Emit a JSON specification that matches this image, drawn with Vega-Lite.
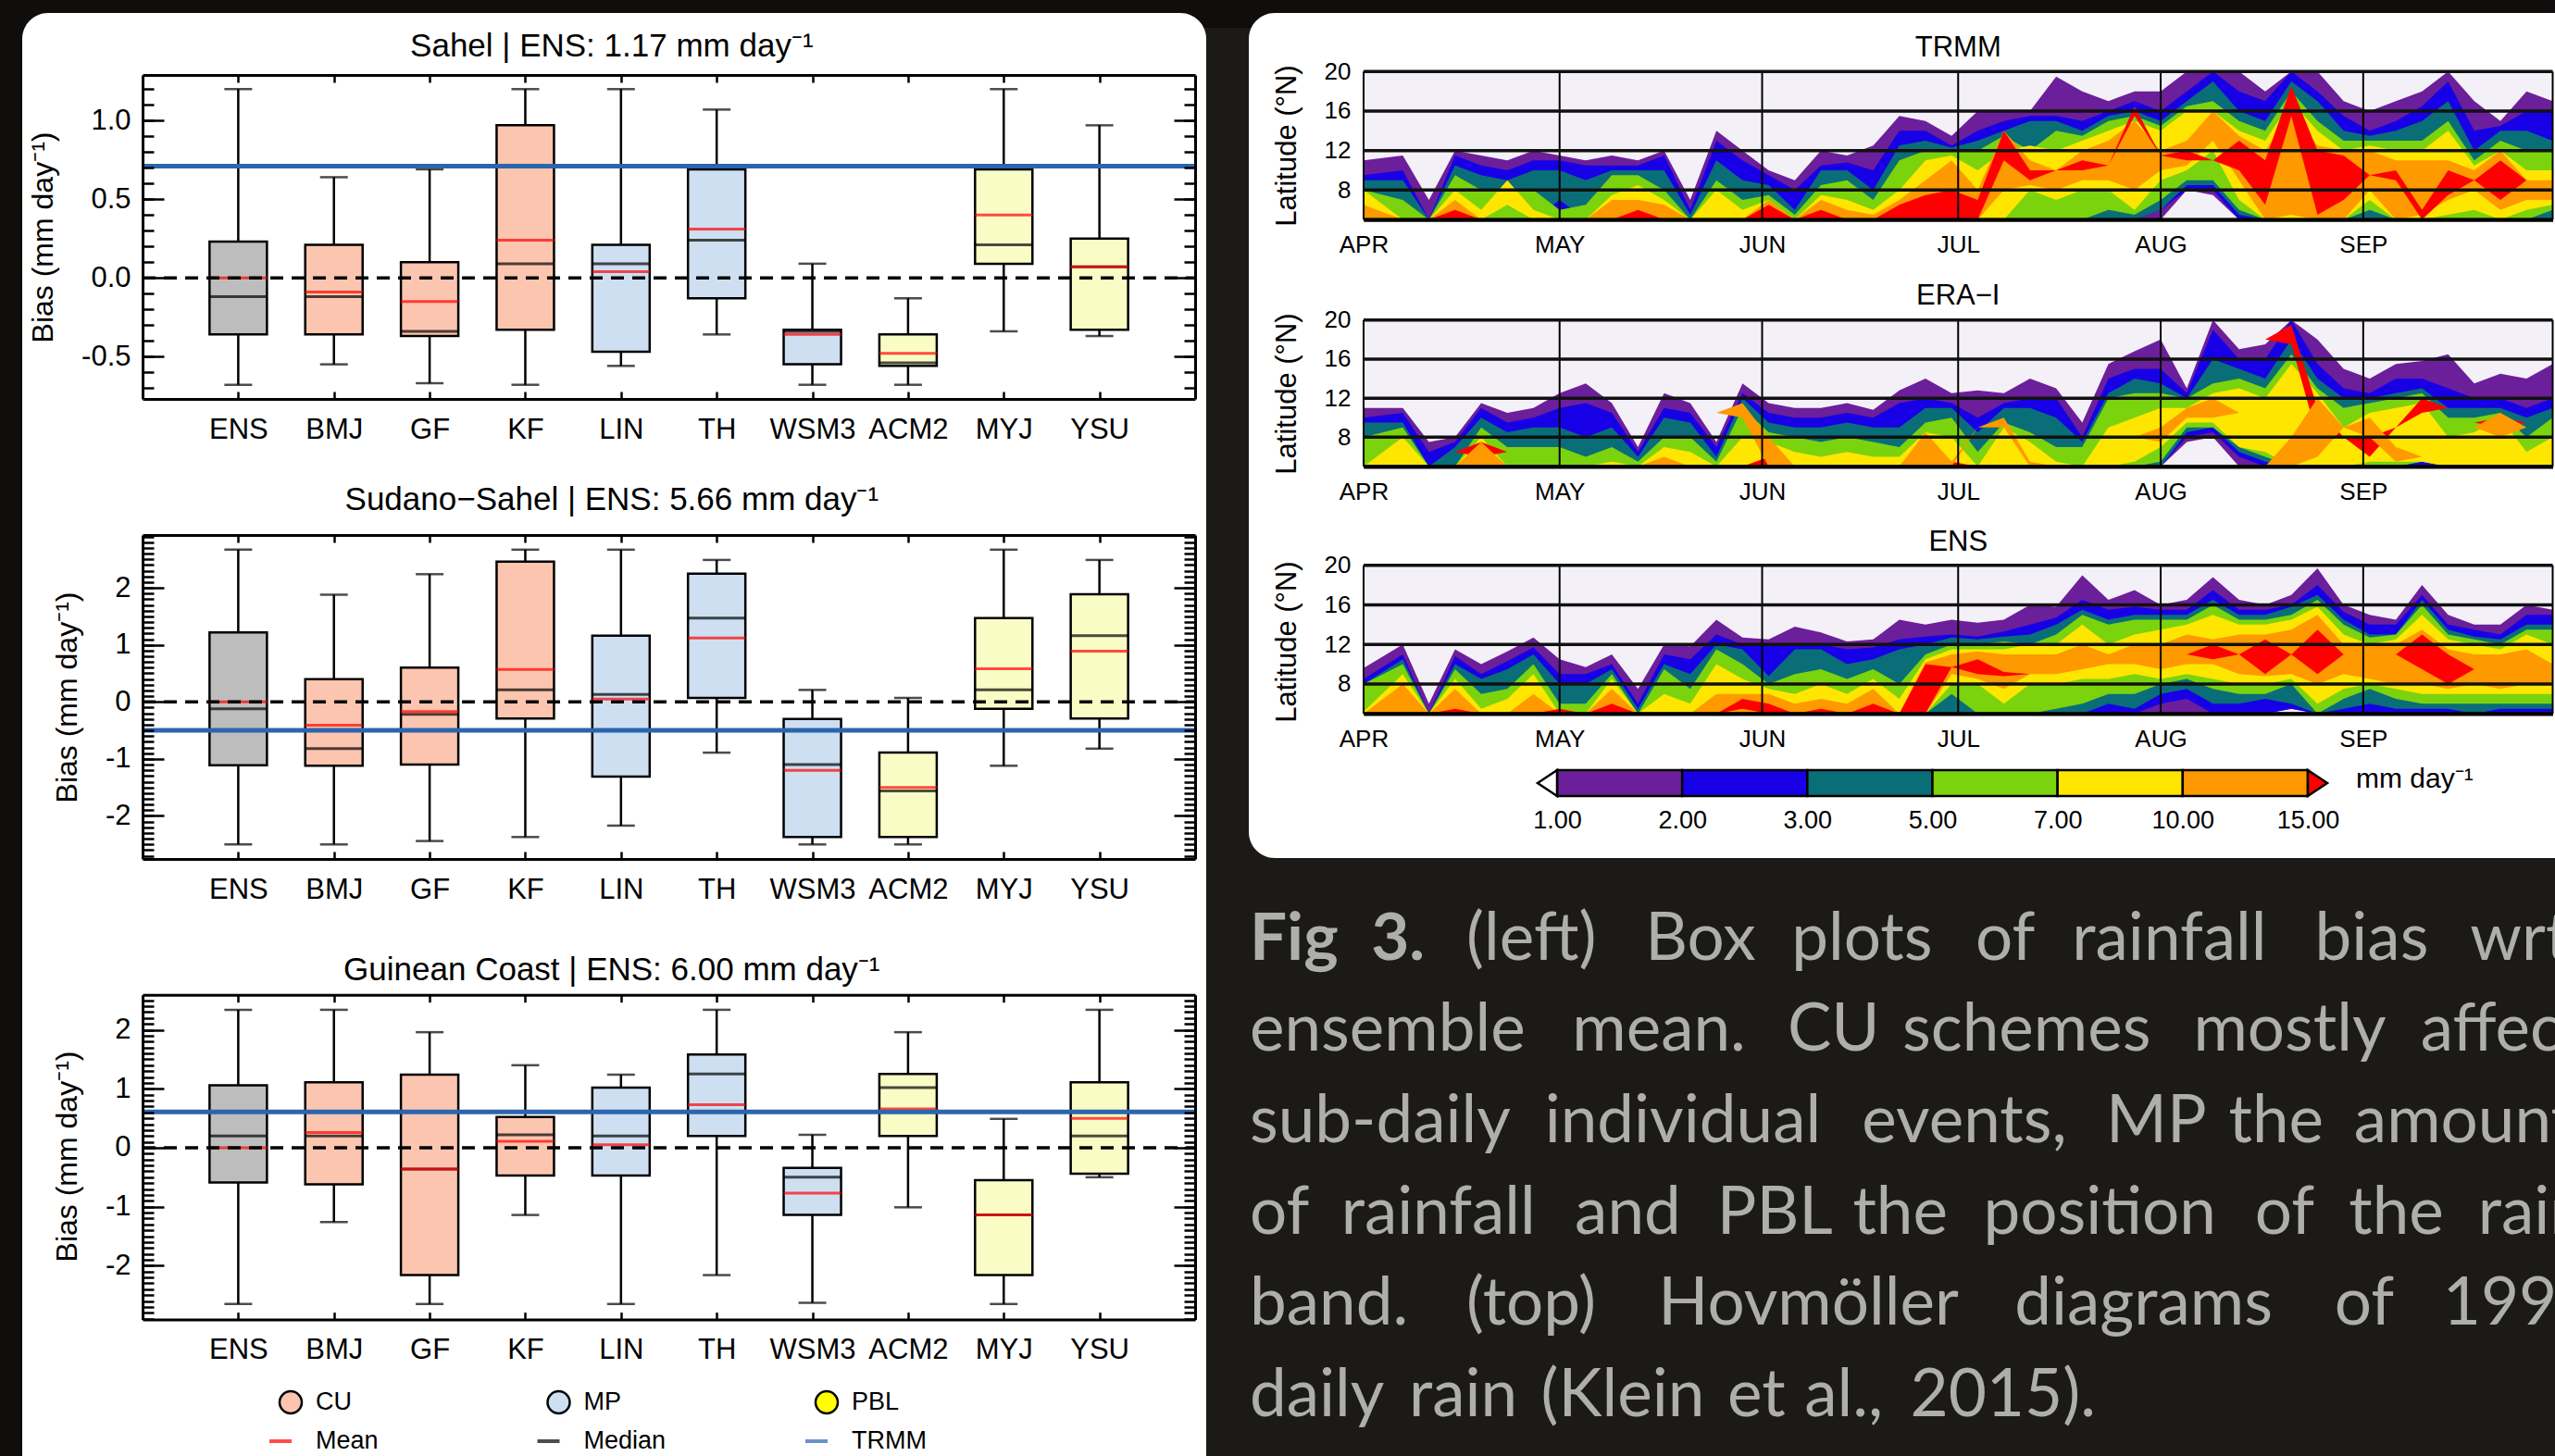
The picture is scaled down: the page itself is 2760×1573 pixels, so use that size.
{"$schema":"https://vega.github.io/schema/vega-lite/v6.json","width":2760,"height":1573,"padding":0,"autosize":{"type":"none"},"background":"#1c1a17",
"config":{"view":{"stroke":null},"axis":{"grid":false,"labelFont":"Liberation Sans","titleFont":"Liberation Sans","labelColor":"#000","titleColor":"#000","domainColor":"#000","tickColor":"#000","domainWidth":3,"tickWidth":2.5,"labelOverlap":false,"titleFontWeight":"normal","labelFontWeight":"normal"},"text":{"font":"Liberation Sans"}},
"resolve":{"scale":{"x":"independent","y":"independent","color":"independent"},"axis":{"x":"independent","y":"independent"}},
"datasets":{
"box":[
{"r":"Sahel","m":"ENS","g":"ENS","hi":1.2,"q3":0.23,"med":-0.12,"mean":0,"q1":-0.36,"lo":-0.68},
{"r":"Sahel","m":"BMJ","g":"CU","hi":0.64,"q3":0.21,"med":-0.12,"mean":-0.09,"q1":-0.36,"lo":-0.55},
{"r":"Sahel","m":"GF","g":"CU","hi":0.69,"q3":0.1,"med":-0.34,"mean":-0.15,"q1":-0.37,"lo":-0.67},
{"r":"Sahel","m":"KF","g":"CU","hi":1.2,"q3":0.97,"med":0.09,"mean":0.24,"q1":-0.33,"lo":-0.68},
{"r":"Sahel","m":"LIN","g":"MP","hi":1.2,"q3":0.21,"med":0.09,"mean":0.04,"q1":-0.47,"lo":-0.56},
{"r":"Sahel","m":"TH","g":"MP","hi":1.07,"q3":0.69,"med":0.24,"mean":0.31,"q1":-0.13,"lo":-0.36},
{"r":"Sahel","m":"WSM3","g":"MP","hi":0.09,"q3":-0.33,"med":-0.34,"mean":-0.36,"q1":-0.55,"lo":-0.68},
{"r":"Sahel","m":"ACM2","g":"PBL","hi":-0.13,"q3":-0.36,"med":-0.54,"mean":-0.48,"q1":-0.56,"lo":-0.68},
{"r":"Sahel","m":"MYJ","g":"PBL","hi":1.2,"q3":0.69,"med":0.21,"mean":0.4,"q1":0.09,"lo":-0.34},
{"r":"Sahel","m":"YSU","g":"PBL","hi":0.97,"q3":0.25,"med":0.07,"mean":0.07,"q1":-0.33,"lo":-0.37},
{"r":"Sudano","m":"ENS","g":"ENS","hi":2.67,"q3":1.22,"med":-0.12,"mean":0,"q1":-1.11,"lo":-2.5},
{"r":"Sudano","m":"BMJ","g":"CU","hi":1.88,"q3":0.4,"med":-0.82,"mean":-0.41,"q1":-1.12,"lo":-2.5},
{"r":"Sudano","m":"GF","g":"CU","hi":2.24,"q3":0.6,"med":-0.22,"mean":-0.17,"q1":-1.1,"lo":-2.44},
{"r":"Sudano","m":"KF","g":"CU","hi":2.67,"q3":2.46,"med":0.21,"mean":0.57,"q1":-0.29,"lo":-2.37},
{"r":"Sudano","m":"LIN","g":"MP","hi":2.67,"q3":1.16,"med":0.13,"mean":0.05,"q1":-1.31,"lo":-2.17},
{"r":"Sudano","m":"TH","g":"MP","hi":2.49,"q3":2.25,"med":1.47,"mean":1.12,"q1":0.07,"lo":-0.89},
{"r":"Sudano","m":"WSM3","g":"MP","hi":0.21,"q3":-0.3,"med":-1.1,"mean":-1.2,"q1":-2.37,"lo":-2.5},
{"r":"Sudano","m":"ACM2","g":"PBL","hi":0.07,"q3":-0.89,"med":-1.56,"mean":-1.5,"q1":-2.37,"lo":-2.5},
{"r":"Sudano","m":"MYJ","g":"PBL","hi":2.67,"q3":1.47,"med":0.21,"mean":0.58,"q1":-0.12,"lo":-1.12},
{"r":"Sudano","m":"YSU","g":"PBL","hi":2.49,"q3":1.89,"med":1.16,"mean":0.89,"q1":-0.29,"lo":-0.82},
{"r":"Guinea","m":"ENS","g":"ENS","hi":2.34,"q3":1.06,"med":0.2,"mean":0,"q1":-0.59,"lo":-2.65},
{"r":"Guinea","m":"BMJ","g":"CU","hi":2.34,"q3":1.11,"med":0.2,"mean":0.26,"q1":-0.62,"lo":-1.26},
{"r":"Guinea","m":"GF","g":"CU","hi":1.96,"q3":1.24,"med":-0.36,"mean":-0.36,"q1":-2.16,"lo":-2.65},
{"r":"Guinea","m":"KF","g":"CU","hi":1.4,"q3":0.52,"med":0.22,"mean":0.11,"q1":-0.47,"lo":-1.14},
{"r":"Guinea","m":"LIN","g":"MP","hi":1.24,"q3":1.02,"med":0.2,"mean":0.05,"q1":-0.47,"lo":-2.65},
{"r":"Guinea","m":"TH","g":"MP","hi":2.34,"q3":1.58,"med":1.25,"mean":0.73,"q1":0.2,"lo":-2.16},
{"r":"Guinea","m":"WSM3","g":"MP","hi":0.22,"q3":-0.34,"med":-0.5,"mean":-0.77,"q1":-1.14,"lo":-2.63},
{"r":"Guinea","m":"ACM2","g":"PBL","hi":1.96,"q3":1.25,"med":1.02,"mean":0.66,"q1":0.2,"lo":-1.01},
{"r":"Guinea","m":"MYJ","g":"PBL","hi":0.49,"q3":-0.55,"med":-1.14,"mean":-1.14,"q1":-2.16,"lo":-2.65},
{"r":"Guinea","m":"YSU","g":"PBL","hi":2.34,"q3":1.11,"med":0.2,"mean":0.5,"q1":-0.44,"lo":-0.5}],
"trmm":[{"r":"Sahel","v":0.71},{"r":"Sudano","v":-0.5},{"r":"Guinea","v":0.61}],
"heads":[{"r":"Sahel","m":"LIN","v":1.475,"s":"Sahel | ENS: 1.17 mm day⁻¹"},{"r":"Sudano","m":"LIN","v":3.54,"s":"Sudano−Sahel | ENS: 5.66 mm day⁻¹"},{"r":"Guinea","m":"LIN","v":3.01,"s":"Guinean Coast | ENS: 6.00 mm day⁻¹"}],
"months":[{"d":0},{"d":30},{"d":61},{"d":91},{"d":122},{"d":153},{"d":182}],
"lats":[{"lat":5,"f":0,"e":182},{"lat":8,"f":0,"e":182},{"lat":12,"f":0,"e":182},{"lat":16,"f":0,"e":182},{"lat":20,"f":0,"e":182}],
"words":[{"l":1,"p":16.6,"w":"(left)"},{"l":1,"p":30.3,"w":"Box"},{"l":1,"p":41.5,"w":"plots"},{"l":1,"p":55.6,"w":"of"},{"l":1,"p":63,"w":"rainfall"},{"l":1,"p":81.6,"w":"bias"},{"l":1,"p":93.5,"w":"wrt"},
{"l":2,"p":0,"w":"ensemble"},{"l":2,"p":24.7,"w":"mean."},{"l":2,"p":41.2,"w":"CU"},{"l":2,"p":50,"w":"schemes"},{"l":2,"p":72.3,"w":"mostly"},{"l":2,"p":89.7,"w":"affect"},
{"l":3,"p":0,"w":"sub-daily"},{"l":3,"p":22.6,"w":"individual"},{"l":3,"p":46.9,"w":"events,"},{"l":3,"p":65.6,"w":"MP"},{"l":3,"p":75,"w":"the"},{"l":3,"p":84.6,"w":"amount"},
{"l":4,"p":0,"w":"of"},{"l":4,"p":7,"w":"rainfall"},{"l":4,"p":24.9,"w":"and"},{"l":4,"p":35.8,"w":"PBL"},{"l":4,"p":46.2,"w":"the"},{"l":4,"p":56.2,"w":"position"},{"l":4,"p":77,"w":"of"},{"l":4,"p":84.2,"w":"the"},{"l":4,"p":94.1,"w":"rain"},
{"l":5,"p":0,"w":"band."},{"l":5,"p":16.6,"w":"(top)"},{"l":5,"p":31.3,"w":"Hovmöller"},{"l":5,"p":58.6,"w":"diagrams"},{"l":5,"p":83.1,"w":"of"},{"l":5,"p":91.4,"w":"1998"},
{"l":6,"p":0,"w":"daily"},{"l":6,"p":12.2,"w":"rain"},{"l":6,"p":22.3,"w":"(Klein"},{"l":6,"p":36.6,"w":"et"},{"l":6,"p":42.5,"w":"al.,"},{"l":6,"p":50.6,"w":"2015)."}],
"hT":[
{"t":0,"a":5,"b":11,"v":1},{"t":0,"a":5,"b":9.5,"v":2},{"t":0,"a":5,"b":9,"v":3},{"t":0,"a":5,"b":8,"v":4},{"t":0,"a":5,"b":8,"v":5},{"t":0,"a":5,"b":6.5,"v":6},
{"t":6,"a":5,"b":11.5,"v":1},{"t":6,"a":5,"b":10,"v":2},{"t":6,"a":5,"b":9,"v":3},{"t":6,"a":5,"b":7,"v":4},
{"t":10,"a":5,"b":7,"v":1},
{"t":14,"a":5,"b":12,"v":1},{"t":14,"a":5,"b":11.5,"v":2},{"t":14,"a":5,"b":10.5,"v":3},{"t":14,"a":5,"b":9.5,"v":4},{"t":14,"a":5,"b":8,"v":5},{"t":14,"a":5,"b":7,"v":6},{"t":14,"a":5,"b":6,"v":7},
{"t":18,"a":5,"b":11.5,"v":1},{"t":18,"a":5,"b":10.5,"v":2},{"t":18,"a":5,"b":9.5,"v":3},{"t":18,"a":5,"b":8,"v":4},{"t":18,"a":5,"b":6,"v":5},
{"t":22,"a":5,"b":11,"v":1},{"t":22,"a":5,"b":10,"v":2},{"t":22,"a":5,"b":9,"v":3},{"t":22,"a":5,"b":8,"v":4},{"t":22,"a":6.5,"b":9,"v":5},
{"t":26,"a":5,"b":12,"v":1},{"t":26,"a":5,"b":11,"v":2},{"t":26,"a":5,"b":10,"v":3},{"t":26,"a":5,"b":8,"v":4},{"t":26,"a":5,"b":6,"v":5},
{"t":30,"a":5,"b":11.5,"v":1},{"t":30,"a":6,"b":11,"v":2},{"t":30,"a":7,"b":10,"v":3},{"t":30,"a":5,"b":6,"v":4},
{"t":34,"a":5,"b":11,"v":1},{"t":34,"a":5,"b":10.5,"v":2},{"t":34,"a":5,"b":9,"v":3},{"t":34,"a":5,"b":6.5,"v":4},
{"t":38,"a":5,"b":11.5,"v":1},{"t":38,"a":5,"b":10.5,"v":2},{"t":38,"a":5,"b":10,"v":3},{"t":38,"a":5,"b":9.5,"v":4},{"t":38,"a":5,"b":7.5,"v":5},{"t":38,"a":5,"b":7,"v":6},
{"t":42,"a":5,"b":11,"v":1},{"t":42,"a":5,"b":10.5,"v":2},{"t":42,"a":5,"b":10,"v":3},{"t":42,"a":5,"b":9.5,"v":4},{"t":42,"a":5,"b":8.5,"v":5},{"t":42,"a":5,"b":7,"v":6},{"t":42,"a":5,"b":6,"v":7},
{"t":46,"a":5,"b":12,"v":1},{"t":46,"a":5,"b":11.5,"v":2},{"t":46,"a":5,"b":10,"v":3},{"t":46,"a":5,"b":8,"v":4},{"t":46,"a":5,"b":7,"v":5},{"t":46,"a":5,"b":6.5,"v":6},
{"t":50,"a":5,"b":7,"v":1},{"t":50,"a":5,"b":6,"v":2},{"t":50,"a":5,"b":5.5,"v":3},
{"t":54,"a":5,"b":14,"v":1},{"t":54,"a":5,"b":13,"v":2},{"t":54,"a":5,"b":11,"v":3},{"t":54,"a":5,"b":9,"v":4},{"t":54,"a":5,"b":8,"v":5},
{"t":58,"a":5,"b":12,"v":1},{"t":58,"a":5,"b":11,"v":2},{"t":58,"a":5,"b":9,"v":3},{"t":58,"a":5,"b":7,"v":4},{"t":58,"a":5,"b":6,"v":5},
{"t":62,"a":5,"b":10,"v":1},{"t":62,"a":5,"b":9.5,"v":2},{"t":62,"a":5,"b":8.5,"v":3},{"t":62,"a":5,"b":7.5,"v":4},{"t":62,"a":5,"b":7,"v":5},{"t":62,"a":5,"b":7,"v":6},{"t":62,"a":5,"b":6.5,"v":7},
{"t":66,"a":5,"b":9,"v":1},{"t":66,"a":5,"b":8,"v":2},{"t":66,"a":5,"b":6,"v":3},{"t":66,"a":5,"b":5.5,"v":4},
{"t":70,"a":5,"b":12,"v":1},{"t":70,"a":5,"b":10.5,"v":2},{"t":70,"a":5,"b":10,"v":3},{"t":70,"a":5,"b":8.5,"v":4},{"t":70,"a":5,"b":7.5,"v":5},{"t":70,"a":5,"b":7,"v":6},{"t":70,"a":5,"b":6,"v":7},
{"t":74,"a":5,"b":11.5,"v":1},{"t":74,"a":5,"b":10.8,"v":2},{"t":74,"a":5,"b":10,"v":3},{"t":74,"a":5,"b":9,"v":4},{"t":74,"a":5,"b":7,"v":5},{"t":74,"a":5,"b":6,"v":6},
{"t":78,"a":5,"b":12.5,"v":1},{"t":78,"a":5,"b":10,"v":2},{"t":78,"a":5,"b":8,"v":3},{"t":78,"a":5,"b":7,"v":4},{"t":78,"a":5,"b":6,"v":5},{"t":78,"a":5,"b":5.5,"v":6},
{"t":82,"a":5,"b":15.5,"v":1},{"t":82,"a":5,"b":14,"v":2},{"t":82,"a":5,"b":12.5,"v":3},{"t":82,"a":5,"b":11,"v":4},{"t":82,"a":5,"b":8,"v":5},{"t":82,"a":5,"b":7,"v":6},{"t":82,"a":5,"b":6.5,"v":7},
{"t":86,"a":5,"b":15,"v":1},{"t":86,"a":5,"b":14,"v":2},{"t":86,"a":5,"b":13,"v":3},{"t":86,"a":5,"b":12,"v":4},{"t":86,"a":5,"b":11,"v":5},{"t":86,"a":5,"b":9,"v":6},{"t":86,"a":5,"b":7.5,"v":7},
{"t":90,"a":5,"b":13.5,"v":1},{"t":90,"a":5,"b":12.5,"v":2},{"t":90,"a":5,"b":12.3,"v":3},{"t":90,"a":5,"b":12,"v":4},{"t":90,"a":5,"b":11.5,"v":5},{"t":90,"a":5,"b":11,"v":6},{"t":90,"a":5,"b":8,"v":7},
{"t":94,"a":5,"b":16,"v":1},{"t":94,"a":5,"b":14,"v":2},{"t":94,"a":5,"b":13,"v":3},{"t":94,"a":5,"b":12,"v":4},{"t":94,"a":5,"b":10,"v":5},{"t":94,"a":5,"b":8,"v":6},{"t":94,"a":5,"b":7,"v":7},
{"t":98,"a":5,"b":16,"v":1},{"t":98,"a":5,"b":15,"v":2},{"t":98,"a":5,"b":14,"v":3},{"t":98,"a":5,"b":13.5,"v":4},{"t":98,"a":5,"b":12,"v":5},{"t":98,"a":8,"b":14,"v":6},{"t":98,"a":11,"b":14,"v":7},
{"t":102,"a":5,"b":16,"v":1},{"t":102,"a":5,"b":15.5,"v":2},{"t":102,"a":5,"b":15,"v":3},{"t":102,"a":5,"b":12,"v":4},{"t":102,"a":8,"b":12.5,"v":5},{"t":102,"a":8.5,"b":11,"v":6},{"t":102,"a":9,"b":10,"v":7},
{"t":106,"a":5,"b":19.5,"v":1},{"t":106,"a":5,"b":15.5,"v":2},{"t":106,"a":5,"b":15,"v":3},{"t":106,"a":5,"b":14,"v":4},{"t":106,"a":7,"b":12,"v":5},{"t":106,"a":8,"b":10,"v":6},{"t":106,"a":10,"b":10,"v":7},
{"t":110,"a":5,"b":18,"v":1},{"t":110,"a":5,"b":15,"v":2},{"t":110,"a":5,"b":14,"v":3},{"t":110,"a":5,"b":13.5,"v":4},{"t":110,"a":8,"b":13,"v":5},{"t":110,"a":9,"b":12,"v":6},{"t":110,"a":10,"b":11,"v":7},
{"t":114,"a":5,"b":17,"v":1},{"t":114,"a":5,"b":16,"v":2},{"t":114,"a":5,"b":15.5,"v":3},{"t":114,"a":6,"b":15,"v":4},{"t":114,"a":8,"b":14,"v":5},{"t":114,"a":9,"b":13,"v":6},{"t":114,"a":10.5,"b":10.5,"v":7},
{"t":118,"a":5,"b":18,"v":1},{"t":118,"a":5,"b":17,"v":2},{"t":118,"a":5,"b":16,"v":3},{"t":118,"a":5.5,"b":15.5,"v":4},{"t":118,"a":6,"b":15,"v":5},{"t":118,"a":8,"b":15,"v":6},{"t":118,"a":15.5,"b":16.5,"v":7},
{"t":122,"a":5,"b":18,"v":1},{"t":122,"a":6,"b":16,"v":2},{"t":122,"a":6,"b":15,"v":3},{"t":122,"a":7,"b":14.5,"v":4},{"t":122,"a":9,"b":14,"v":5},{"t":122,"a":10,"b":12,"v":6},{"t":122,"a":11.5,"b":11.5,"v":7},
{"t":126,"a":8,"b":20,"v":1},{"t":126,"a":8,"b":18,"v":2},{"t":126,"a":8.5,"b":17,"v":3},{"t":126,"a":9,"b":16.5,"v":4},{"t":126,"a":10,"b":16,"v":5},{"t":126,"a":10.5,"b":13,"v":6},{"t":126,"a":11,"b":12,"v":7},
{"t":130,"a":7.5,"b":20,"v":1},{"t":130,"a":8,"b":20,"v":2},{"t":130,"a":8.5,"b":19,"v":3},{"t":130,"a":9,"b":17,"v":4},{"t":130,"a":12,"b":16,"v":5},{"t":130,"a":13,"b":16,"v":6},{"t":130,"a":11,"b":11,"v":7},
{"t":134,"a":5,"b":20,"v":1},{"t":134,"a":5,"b":18,"v":2},{"t":134,"a":5.5,"b":16,"v":3},{"t":134,"a":6,"b":15,"v":4},{"t":134,"a":7,"b":14,"v":5},{"t":134,"a":9,"b":13.5,"v":6},{"t":134,"a":10,"b":13,"v":7},
{"t":138,"a":5,"b":18,"v":1},{"t":138,"a":5,"b":17,"v":2},{"t":138,"a":5,"b":15,"v":3},{"t":138,"a":5,"b":14,"v":4},{"t":138,"a":5,"b":13,"v":5},{"t":138,"a":5,"b":12,"v":6},{"t":138,"a":6.5,"b":11,"v":7},
{"t":142,"a":5,"b":20,"v":1},{"t":142,"a":5,"b":20,"v":2},{"t":142,"a":5,"b":19,"v":3},{"t":142,"a":5,"b":18,"v":4},{"t":142,"a":5,"b":17,"v":5},{"t":142,"a":5.5,"b":16,"v":6},{"t":142,"a":15.5,"b":18.5,"v":7},
{"t":146,"a":5,"b":20,"v":1},{"t":146,"a":5,"b":18,"v":2},{"t":146,"a":5,"b":17,"v":3},{"t":146,"a":5,"b":15,"v":4},{"t":146,"a":5,"b":14,"v":5},{"t":146,"a":5,"b":12.5,"v":6},{"t":146,"a":5.5,"b":12,"v":7},
{"t":150,"a":5,"b":17,"v":1},{"t":150,"a":5,"b":15.5,"v":2},{"t":150,"a":5,"b":14,"v":3},{"t":150,"a":5,"b":13,"v":4},{"t":150,"a":5,"b":12,"v":5},{"t":150,"a":5,"b":12,"v":6},{"t":150,"a":7,"b":11.5,"v":7},
{"t":154,"a":5,"b":16,"v":1},{"t":154,"a":5,"b":14,"v":2},{"t":154,"a":5,"b":13.5,"v":3},{"t":154,"a":6,"b":13,"v":4},{"t":154,"a":7,"b":12.5,"v":5},{"t":154,"a":8,"b":12,"v":6},{"t":154,"a":9.5,"b":9.5,"v":7},
{"t":158,"a":5,"b":17,"v":1},{"t":158,"a":5,"b":15,"v":2},{"t":158,"a":5,"b":14,"v":3},{"t":158,"a":5,"b":13,"v":4},{"t":158,"a":5,"b":12,"v":5},{"t":158,"a":5,"b":11,"v":6},{"t":158,"a":9,"b":10,"v":7},
{"t":162,"a":5,"b":18,"v":1},{"t":162,"a":5,"b":16.5,"v":2},{"t":162,"a":5,"b":15,"v":3},{"t":162,"a":5,"b":13,"v":4},{"t":162,"a":5,"b":12,"v":5},{"t":162,"a":5.5,"b":11,"v":6},{"t":162,"a":5,"b":6,"v":7},
{"t":166,"a":5,"b":20,"v":1},{"t":166,"a":5,"b":19,"v":2},{"t":166,"a":5,"b":17,"v":3},{"t":166,"a":5,"b":15,"v":4},{"t":166,"a":5.5,"b":14,"v":5},{"t":166,"a":7,"b":11,"v":6},{"t":166,"a":7.5,"b":10,"v":7},
{"t":170,"a":5,"b":17,"v":1},{"t":170,"a":5,"b":14,"v":2},{"t":170,"a":5,"b":12,"v":3},{"t":170,"a":5,"b":11,"v":4},{"t":170,"a":6,"b":10.5,"v":5},{"t":170,"a":8,"b":10,"v":6},{"t":170,"a":9,"b":9,"v":7},
{"t":174,"a":5,"b":15,"v":1},{"t":174,"a":5,"b":14.5,"v":2},{"t":174,"a":5,"b":14,"v":3},{"t":174,"a":5,"b":13,"v":4},{"t":174,"a":5,"b":12,"v":5},{"t":174,"a":6,"b":12,"v":6},{"t":174,"a":7,"b":11,"v":7},
{"t":178,"a":5,"b":18,"v":1},{"t":178,"a":5,"b":16,"v":2},{"t":178,"a":5,"b":14,"v":3},{"t":178,"a":5,"b":12,"v":4},{"t":178,"a":6,"b":10,"v":5},{"t":178,"a":7,"b":9,"v":6},{"t":178,"a":9,"b":9,"v":7},
{"t":182,"a":5,"b":17,"v":1},{"t":182,"a":5,"b":16,"v":2},{"t":182,"a":5,"b":13,"v":3},{"t":182,"a":6,"b":12,"v":4},{"t":182,"a":6.5,"b":10,"v":5},{"t":182,"a":7,"b":9,"v":6}],
"hE":[
{"t":0,"a":5,"b":11,"v":1},{"t":0,"a":5,"b":10,"v":2},{"t":0,"a":5,"b":9.5,"v":3},{"t":0,"a":5,"b":8,"v":4},
{"t":6,"a":5,"b":11,"v":1},{"t":6,"a":5,"b":10.5,"v":2},{"t":6,"a":5,"b":9.5,"v":3},{"t":6,"a":5,"b":9,"v":4},{"t":6,"a":5,"b":8,"v":5},
{"t":10,"a":5,"b":7.5,"v":1},{"t":10,"a":5,"b":6.5,"v":2},
{"t":14,"a":5,"b":8,"v":1},{"t":14,"a":5,"b":7.5,"v":2},{"t":14,"a":5,"b":7,"v":3},{"t":14,"a":6.5,"b":6.5,"v":7},
{"t":18,"a":5,"b":11.5,"v":1},{"t":18,"a":5,"b":11,"v":2},{"t":18,"a":5,"b":10,"v":3},{"t":18,"a":5,"b":9,"v":4},{"t":18,"a":5,"b":8,"v":5},{"t":18,"a":5,"b":7.5,"v":6},{"t":18,"a":6,"b":7.5,"v":7},
{"t":22,"a":5,"b":10.5,"v":1},{"t":22,"a":5,"b":9.5,"v":2},{"t":22,"a":5,"b":8.5,"v":3},{"t":22,"a":5,"b":7,"v":4},{"t":22,"a":6.5,"b":6.5,"v":7},
{"t":26,"a":5,"b":11,"v":1},{"t":26,"a":5,"b":10,"v":2},{"t":26,"a":5,"b":9,"v":3},{"t":26,"a":5,"b":7,"v":4},
{"t":30,"a":5,"b":12.5,"v":1},{"t":30,"a":5,"b":11,"v":2},{"t":30,"a":5,"b":9,"v":3},{"t":30,"a":5,"b":7,"v":4},
{"t":34,"a":5,"b":13.5,"v":1},{"t":34,"a":5,"b":11.5,"v":2},{"t":34,"a":5,"b":8,"v":3},{"t":34,"a":5,"b":6,"v":4},
{"t":38,"a":5,"b":11.5,"v":1},{"t":38,"a":5,"b":10.5,"v":2},{"t":38,"a":5,"b":9,"v":3},{"t":38,"a":5,"b":7,"v":4},{"t":38,"a":5,"b":5.5,"v":5},
{"t":42,"a":5,"b":7,"v":1},{"t":42,"a":5,"b":6.5,"v":2},{"t":42,"a":5,"b":6,"v":3},{"t":42,"a":5,"b":5.5,"v":4},
{"t":46,"a":5,"b":12.5,"v":1},{"t":46,"a":5,"b":11,"v":2},{"t":46,"a":5,"b":10,"v":3},{"t":46,"a":5,"b":8,"v":4},{"t":46,"a":5,"b":7,"v":5},{"t":46,"a":5,"b":6,"v":6},
{"t":50,"a":5,"b":11.5,"v":1},{"t":50,"a":5,"b":10.5,"v":2},{"t":50,"a":5,"b":9.5,"v":3},{"t":50,"a":5,"b":8,"v":4},{"t":50,"a":5,"b":6.5,"v":5},
{"t":54,"a":5,"b":7.5,"v":1},{"t":54,"a":5,"b":7,"v":2},{"t":54,"a":5,"b":6,"v":3},{"t":54,"a":5,"b":5.5,"v":4},{"t":54,"a":10.5,"b":10.5,"v":6},
{"t":58,"a":5,"b":13.5,"v":1},{"t":58,"a":5,"b":12.5,"v":2},{"t":58,"a":5,"b":12,"v":3},{"t":58,"a":5,"b":11,"v":4},{"t":58,"a":5,"b":8,"v":5},{"t":58,"a":10,"b":11.5,"v":6},
{"t":62,"a":5,"b":11.5,"v":1},{"t":62,"a":5,"b":10.5,"v":2},{"t":62,"a":5,"b":9.5,"v":3},{"t":62,"a":5,"b":8.5,"v":4},{"t":62,"a":5,"b":7.5,"v":5},{"t":62,"a":5,"b":8,"v":6},{"t":62,"a":5,"b":6,"v":7},
{"t":66,"a":5,"b":11,"v":1},{"t":66,"a":5,"b":10,"v":2},{"t":66,"a":5,"b":9,"v":3},{"t":66,"a":5,"b":8,"v":4},{"t":66,"a":5,"b":6.5,"v":5},
{"t":70,"a":5,"b":11,"v":1},{"t":70,"a":5,"b":10,"v":2},{"t":70,"a":5,"b":9,"v":3},{"t":70,"a":5,"b":7.5,"v":4},{"t":70,"a":5,"b":6,"v":5},
{"t":74,"a":5,"b":11.5,"v":1},{"t":74,"a":5,"b":10.5,"v":2},{"t":74,"a":5,"b":9.5,"v":3},{"t":74,"a":5,"b":8,"v":4},{"t":74,"a":5,"b":6.5,"v":5},
{"t":78,"a":5,"b":10.8,"v":1},{"t":78,"a":5,"b":10,"v":2},{"t":78,"a":5,"b":9,"v":3},{"t":78,"a":5,"b":7.5,"v":4},{"t":78,"a":5,"b":6,"v":5},
{"t":82,"a":5,"b":12.8,"v":1},{"t":82,"a":5,"b":11.5,"v":2},{"t":82,"a":5,"b":9,"v":3},{"t":82,"a":5,"b":7,"v":4},{"t":82,"a":5,"b":6,"v":5},
{"t":86,"a":5,"b":14,"v":1},{"t":86,"a":5,"b":12,"v":2},{"t":86,"a":5,"b":11,"v":3},{"t":86,"a":5,"b":9.5,"v":4},{"t":86,"a":5,"b":8.5,"v":5},{"t":86,"a":5,"b":8.5,"v":6},{"t":86,"a":5,"b":8,"v":7},
{"t":90,"a":5,"b":12.5,"v":1},{"t":90,"a":5,"b":11.5,"v":2},{"t":90,"a":5,"b":11,"v":3},{"t":90,"a":5,"b":10,"v":4},{"t":90,"a":5,"b":8,"v":5},{"t":90,"a":5,"b":5.5,"v":6},{"t":90,"a":5,"b":5.5,"v":7},
{"t":94,"a":5,"b":12.8,"v":1},{"t":94,"a":5,"b":10,"v":2},{"t":94,"a":5,"b":8.5,"v":3},{"t":94,"a":5,"b":6.5,"v":4},{"t":94,"a":9,"b":9,"v":6},
{"t":98,"a":5,"b":12.5,"v":1},{"t":98,"a":5,"b":11.5,"v":2},{"t":98,"a":5,"b":11,"v":3},{"t":98,"a":5,"b":9.5,"v":4},{"t":98,"a":5,"b":9,"v":5},{"t":98,"a":9,"b":10,"v":6},
{"t":102,"a":5,"b":14,"v":1},{"t":102,"a":5,"b":12,"v":2},{"t":102,"a":5,"b":11,"v":3},{"t":102,"a":5,"b":8.5,"v":4},{"t":102,"a":5,"b":7.5,"v":5},{"t":102,"a":5,"b":5.5,"v":6},
{"t":106,"a":5,"b":13,"v":1},{"t":106,"a":5,"b":12,"v":2},{"t":106,"a":5,"b":10,"v":3},{"t":106,"a":5,"b":7,"v":4},{"t":106,"a":5,"b":5.5,"v":5},
{"t":110,"a":5,"b":9.5,"v":1},{"t":110,"a":5,"b":8,"v":2},{"t":110,"a":5,"b":7.5,"v":3},{"t":110,"a":5,"b":7,"v":4},
{"t":114,"a":5,"b":15.5,"v":1},{"t":114,"a":5,"b":14,"v":2},{"t":114,"a":5,"b":12.5,"v":3},{"t":114,"a":5,"b":12,"v":4},{"t":114,"a":5,"b":9,"v":5},
{"t":118,"a":5,"b":16.8,"v":1},{"t":118,"a":5,"b":15,"v":2},{"t":118,"a":5,"b":14,"v":3},{"t":118,"a":5,"b":12.5,"v":4},{"t":118,"a":5.5,"b":10,"v":5},{"t":118,"a":8,"b":8,"v":6},
{"t":122,"a":5,"b":18,"v":1},{"t":122,"a":5,"b":15,"v":2},{"t":122,"a":5,"b":13.5,"v":3},{"t":122,"a":5.5,"b":12.5,"v":4},{"t":122,"a":7,"b":11,"v":5},{"t":122,"a":7.5,"b":9,"v":6},
{"t":126,"a":7.5,"b":13,"v":1},{"t":126,"a":8,"b":12.5,"v":2},{"t":126,"a":8.5,"b":12,"v":3},{"t":126,"a":9,"b":12,"v":4},{"t":126,"a":9.5,"b":11,"v":5},{"t":126,"a":10,"b":11,"v":6},
{"t":130,"a":8,"b":20,"v":1},{"t":130,"a":8.5,"b":19,"v":2},{"t":130,"a":9,"b":16,"v":3},{"t":130,"a":9,"b":13.5,"v":4},{"t":130,"a":9.5,"b":12.5,"v":5},{"t":130,"a":10,"b":12,"v":6},
{"t":134,"a":5,"b":17,"v":1},{"t":134,"a":6,"b":16,"v":2},{"t":134,"a":6.5,"b":15,"v":3},{"t":134,"a":7,"b":14,"v":4},{"t":134,"a":7,"b":13,"v":5},{"t":134,"a":10.5,"b":10.5,"v":6},
{"t":138,"a":5,"b":17.5,"v":1},{"t":138,"a":5,"b":16,"v":2},{"t":138,"a":5.5,"b":14,"v":3},{"t":138,"a":6,"b":13,"v":4},{"t":138,"a":6.5,"b":12,"v":5},{"t":138,"a":18,"b":18,"v":7},
{"t":142,"a":5,"b":20,"v":1},{"t":142,"a":5,"b":20,"v":2},{"t":142,"a":5,"b":18,"v":3},{"t":142,"a":5,"b":16.5,"v":4},{"t":142,"a":5,"b":15.5,"v":5},{"t":142,"a":5,"b":8,"v":6},{"t":142,"a":17.5,"b":19.5,"v":7},
{"t":146,"a":5,"b":18,"v":1},{"t":146,"a":5,"b":15.5,"v":2},{"t":146,"a":5,"b":14,"v":3},{"t":146,"a":5,"b":13,"v":4},{"t":146,"a":5,"b":12.5,"v":5},{"t":146,"a":6,"b":12,"v":6},{"t":146,"a":8,"b":11,"v":7},
{"t":150,"a":5,"b":15,"v":1},{"t":150,"a":5,"b":13,"v":2},{"t":150,"a":5,"b":12,"v":3},{"t":150,"a":5,"b":11,"v":4},{"t":150,"a":5,"b":9,"v":5},{"t":150,"a":9,"b":9,"v":6},{"t":150,"a":8,"b":8,"v":7},
{"t":154,"a":5,"b":14,"v":1},{"t":154,"a":5,"b":12.5,"v":2},{"t":154,"a":5,"b":12,"v":3},{"t":154,"a":5,"b":11.5,"v":4},{"t":154,"a":5.5,"b":10.5,"v":5},{"t":154,"a":8,"b":10,"v":6},{"t":154,"a":6,"b":8,"v":7},
{"t":158,"a":5,"b":15.5,"v":1},{"t":158,"a":5,"b":14,"v":2},{"t":158,"a":5,"b":12.5,"v":3},{"t":158,"a":5,"b":12,"v":4},{"t":158,"a":5.5,"b":11,"v":5},{"t":158,"a":5.5,"b":7,"v":6},{"t":158,"a":9,"b":9,"v":7},
{"t":162,"a":5,"b":15.8,"v":1},{"t":162,"a":5,"b":14,"v":2},{"t":162,"a":5.5,"b":13,"v":3},{"t":162,"a":5.5,"b":12.5,"v":4},{"t":162,"a":5.5,"b":11.5,"v":5},{"t":162,"a":6,"b":6,"v":6},{"t":162,"a":10.5,"b":12,"v":7},
{"t":166,"a":5,"b":16.5,"v":1},{"t":166,"a":5,"b":13,"v":2},{"t":166,"a":5,"b":11,"v":3},{"t":166,"a":5,"b":10,"v":4},{"t":166,"a":5,"b":8,"v":5},{"t":166,"a":11,"b":11,"v":7},
{"t":170,"a":5,"b":13.5,"v":1},{"t":170,"a":5,"b":12,"v":2},{"t":170,"a":5,"b":11,"v":3},{"t":170,"a":5,"b":10,"v":4},{"t":170,"a":5,"b":8.5,"v":5},{"t":170,"a":9,"b":9,"v":6},{"t":170,"a":9.5,"b":9.5,"v":7},
{"t":174,"a":5,"b":14.5,"v":1},{"t":174,"a":5,"b":12,"v":2},{"t":174,"a":5,"b":11,"v":3},{"t":174,"a":5,"b":10.5,"v":4},{"t":174,"a":5,"b":10,"v":5},{"t":174,"a":8,"b":10.5,"v":6},{"t":174,"a":9,"b":10,"v":7},
{"t":178,"a":5,"b":14,"v":1},{"t":178,"a":5,"b":11,"v":2},{"t":178,"a":5,"b":10,"v":3},{"t":178,"a":5,"b":8,"v":4},{"t":178,"a":5,"b":6.5,"v":5},{"t":178,"a":9,"b":9,"v":6},{"t":178,"a":9.5,"b":9.5,"v":7},
{"t":182,"a":5,"b":15.5,"v":1},{"t":182,"a":5,"b":12,"v":2},{"t":182,"a":5,"b":11,"v":3},{"t":182,"a":5,"b":10,"v":4},{"t":182,"a":5,"b":8,"v":5}],
"hN":[
{"t":0,"a":5,"b":9.6,"v":1},{"t":0,"a":5,"b":8.5,"v":2},{"t":0,"a":5,"b":8,"v":3},{"t":0,"a":5,"b":8,"v":4},{"t":0,"a":5,"b":5.2,"v":5},
{"t":6,"a":5,"b":12,"v":1},{"t":6,"a":5,"b":11,"v":2},{"t":6,"a":5,"b":10.5,"v":3},{"t":6,"a":5,"b":10,"v":4},{"t":6,"a":5,"b":9,"v":5},{"t":6,"a":5,"b":8,"v":6},
{"t":10,"a":5,"b":6,"v":1},
{"t":14,"a":5,"b":11.5,"v":1},{"t":14,"a":5,"b":10.8,"v":2},{"t":14,"a":5,"b":10,"v":3},{"t":14,"a":5,"b":9.5,"v":4},{"t":14,"a":5,"b":8.5,"v":5},{"t":14,"a":5,"b":7.5,"v":6},{"t":14,"a":5,"b":5.5,"v":7},
{"t":18,"a":5,"b":10,"v":1},{"t":18,"a":5,"b":9,"v":2},{"t":18,"a":5,"b":8.5,"v":3},{"t":18,"a":5,"b":7,"v":4},{"t":18,"a":5,"b":5.5,"v":5},
{"t":22,"a":5,"b":11.3,"v":1},{"t":22,"a":5,"b":10.3,"v":2},{"t":22,"a":5,"b":9.5,"v":3},{"t":22,"a":5,"b":7.5,"v":4},{"t":22,"a":5,"b":6.5,"v":5},
{"t":26,"a":5,"b":12.7,"v":1},{"t":26,"a":5,"b":11.7,"v":2},{"t":26,"a":5,"b":11,"v":3},{"t":26,"a":5,"b":10,"v":4},{"t":26,"a":5,"b":9,"v":5},{"t":26,"a":5,"b":7,"v":6},
{"t":30,"a":5,"b":10.5,"v":1},{"t":30,"a":5,"b":9,"v":2},{"t":30,"a":5,"b":8,"v":3},{"t":30,"a":5,"b":6,"v":4},{"t":30,"a":5,"b":5.5,"v":7},
{"t":34,"a":5,"b":9.7,"v":1},{"t":34,"a":5,"b":9,"v":2},{"t":34,"a":5,"b":8,"v":3},{"t":34,"a":5,"b":6,"v":4},
{"t":38,"a":5,"b":11,"v":1},{"t":38,"a":5,"b":10,"v":2},{"t":38,"a":5,"b":9.5,"v":3},{"t":38,"a":5,"b":9,"v":4},{"t":38,"a":5,"b":8.5,"v":5},{"t":38,"a":5,"b":7.5,"v":6},{"t":38,"a":5,"b":6,"v":7},
{"t":42,"a":5,"b":7.5,"v":1},{"t":42,"a":5,"b":6,"v":2},{"t":42,"a":5,"b":5.5,"v":3},
{"t":46,"a":5,"b":12,"v":1},{"t":46,"a":5,"b":11,"v":2},{"t":46,"a":5,"b":10,"v":3},{"t":46,"a":5,"b":9.5,"v":4},{"t":46,"a":5,"b":7,"v":5},
{"t":50,"a":5,"b":11.8,"v":1},{"t":50,"a":5,"b":10.5,"v":2},{"t":50,"a":5,"b":9,"v":3},{"t":50,"a":5,"b":7.5,"v":4},{"t":50,"a":5,"b":6,"v":5},
{"t":54,"a":5,"b":14.5,"v":1},{"t":54,"a":5,"b":13,"v":2},{"t":54,"a":5,"b":12,"v":3},{"t":54,"a":5,"b":11.5,"v":4},{"t":54,"a":5,"b":10,"v":5},{"t":54,"a":5,"b":7,"v":6},
{"t":58,"a":5,"b":12.7,"v":1},{"t":58,"a":5,"b":12,"v":2},{"t":58,"a":5,"b":11.5,"v":3},{"t":58,"a":5,"b":10,"v":4},{"t":58,"a":5,"b":8.5,"v":5},{"t":58,"a":5,"b":7,"v":6},{"t":58,"a":5.5,"b":6.5,"v":7},
{"t":62,"a":5,"b":12.5,"v":1},{"t":62,"a":5,"b":11.8,"v":2},{"t":62,"a":5,"b":8.8,"v":3},{"t":62,"a":5,"b":8,"v":4},{"t":62,"a":5,"b":7.5,"v":5},{"t":62,"a":5,"b":7,"v":6},{"t":62,"a":5,"b":6,"v":7},
{"t":66,"a":5,"b":13.8,"v":1},{"t":66,"a":5,"b":12,"v":2},{"t":66,"a":5,"b":11.5,"v":3},{"t":66,"a":5,"b":9,"v":4},{"t":66,"a":5,"b":7,"v":5},{"t":66,"a":5,"b":6,"v":6},
{"t":70,"a":5,"b":13.2,"v":1},{"t":70,"a":5,"b":12,"v":2},{"t":70,"a":5,"b":11.5,"v":3},{"t":70,"a":5,"b":9.5,"v":4},{"t":70,"a":5,"b":8,"v":5},{"t":70,"a":5,"b":6.5,"v":6},{"t":70,"a":5,"b":5.5,"v":7},
{"t":74,"a":5,"b":12.3,"v":1},{"t":74,"a":5,"b":11.5,"v":2},{"t":74,"a":5,"b":10,"v":3},{"t":74,"a":5,"b":8.5,"v":4},{"t":74,"a":5,"b":7,"v":5},{"t":74,"a":5,"b":6,"v":6},
{"t":78,"a":5,"b":12.5,"v":1},{"t":78,"a":5,"b":11.7,"v":2},{"t":78,"a":5,"b":10.5,"v":3},{"t":78,"a":5,"b":9.5,"v":4},{"t":78,"a":5,"b":8.5,"v":5},{"t":78,"a":5,"b":7.5,"v":6},{"t":78,"a":5,"b":6,"v":7},
{"t":82,"a":5,"b":14.5,"v":1},{"t":82,"a":5,"b":12.5,"v":2},{"t":82,"a":5,"b":11.5,"v":3},{"t":82,"a":5,"b":8,"v":4},{"t":82,"a":5,"b":6.5,"v":5},
{"t":86,"a":5,"b":14,"v":1},{"t":86,"a":5,"b":12.8,"v":2},{"t":86,"a":5,"b":12,"v":3},{"t":86,"a":5,"b":11,"v":4},{"t":86,"a":5,"b":10.5,"v":5},{"t":86,"a":5,"b":10.2,"v":6},{"t":86,"a":5,"b":10,"v":7},
{"t":90,"a":5,"b":14.5,"v":1},{"t":90,"a":5,"b":13,"v":2},{"t":90,"a":5,"b":12.7,"v":3},{"t":90,"a":7,"b":12,"v":4},{"t":90,"a":8,"b":11.5,"v":5},{"t":90,"a":9,"b":11,"v":6},{"t":90,"a":9.7,"b":9.7,"v":7},
{"t":94,"a":5,"b":14.2,"v":1},{"t":94,"a":5,"b":12.8,"v":2},{"t":94,"a":5,"b":12.5,"v":3},{"t":94,"a":5,"b":12,"v":4},{"t":94,"a":8,"b":11.5,"v":5},{"t":94,"a":8.5,"b":11.3,"v":6},{"t":94,"a":9,"b":10.5,"v":7},
{"t":98,"a":5,"b":14.5,"v":1},{"t":98,"a":5,"b":13.3,"v":2},{"t":98,"a":5,"b":12.8,"v":3},{"t":98,"a":5,"b":12.3,"v":4},{"t":98,"a":6,"b":11.5,"v":5},{"t":98,"a":7.5,"b":11,"v":6},{"t":98,"a":8.8,"b":9.2,"v":7},
{"t":102,"a":5,"b":16,"v":1},{"t":102,"a":5,"b":14,"v":2},{"t":102,"a":5,"b":13,"v":3},{"t":102,"a":5,"b":12,"v":4},{"t":102,"a":8,"b":12,"v":5},{"t":102,"a":9,"b":11,"v":6},{"t":102,"a":9,"b":9,"v":7},
{"t":106,"a":5,"b":15.8,"v":1},{"t":106,"a":6,"b":14.7,"v":2},{"t":106,"a":5,"b":14,"v":3},{"t":106,"a":5.5,"b":13,"v":4},{"t":106,"a":8,"b":12,"v":5},{"t":106,"a":9,"b":11,"v":6},
{"t":110,"a":5,"b":19,"v":1},{"t":110,"a":5,"b":16.5,"v":2},{"t":110,"a":5,"b":15.5,"v":3},{"t":110,"a":6,"b":15,"v":4},{"t":110,"a":8.5,"b":14,"v":5},{"t":110,"a":9.5,"b":12,"v":6},
{"t":114,"a":5,"b":16.5,"v":1},{"t":114,"a":5,"b":15.5,"v":2},{"t":114,"a":6,"b":14.5,"v":3},{"t":114,"a":7,"b":14,"v":4},{"t":114,"a":8.5,"b":12,"v":5},{"t":114,"a":10,"b":11,"v":6},
{"t":118,"a":5,"b":17.5,"v":1},{"t":118,"a":5,"b":15.8,"v":2},{"t":118,"a":5.5,"b":15,"v":3},{"t":118,"a":7,"b":14.5,"v":4},{"t":118,"a":9,"b":13,"v":5},{"t":118,"a":10,"b":12,"v":6},
{"t":122,"a":5,"b":16,"v":1},{"t":122,"a":6,"b":15.5,"v":2},{"t":122,"a":7,"b":15,"v":3},{"t":122,"a":8,"b":14.5,"v":4},{"t":122,"a":8.5,"b":13.5,"v":5},{"t":122,"a":9.5,"b":12,"v":6},
{"t":126,"a":5,"b":16.5,"v":1},{"t":126,"a":6.5,"b":15.5,"v":2},{"t":126,"a":7.5,"b":15,"v":3},{"t":126,"a":8.5,"b":14.5,"v":4},{"t":126,"a":9,"b":14,"v":5},{"t":126,"a":10,"b":13,"v":6},{"t":126,"a":11,"b":11,"v":7},
{"t":130,"a":5,"b":18.8,"v":1},{"t":130,"a":5,"b":17.5,"v":2},{"t":130,"a":6,"b":16.5,"v":3},{"t":130,"a":7.5,"b":16,"v":4},{"t":130,"a":8.5,"b":15,"v":5},{"t":130,"a":10,"b":12.5,"v":6},{"t":130,"a":10.5,"b":12,"v":7},
{"t":134,"a":5,"b":16.5,"v":1},{"t":134,"a":5,"b":15.5,"v":2},{"t":134,"a":6,"b":15,"v":3},{"t":134,"a":7,"b":14.5,"v":4},{"t":134,"a":8,"b":14,"v":5},{"t":134,"a":9,"b":13,"v":6},{"t":134,"a":11,"b":11,"v":7},
{"t":138,"a":5,"b":16,"v":1},{"t":138,"a":5,"b":15.5,"v":2},{"t":138,"a":6.5,"b":15,"v":3},{"t":138,"a":7,"b":14.5,"v":4},{"t":138,"a":8,"b":14,"v":5},{"t":138,"a":8.8,"b":13,"v":6},{"t":138,"a":9,"b":12.5,"v":7},
{"t":142,"a":5.5,"b":17,"v":1},{"t":142,"a":5.5,"b":16,"v":2},{"t":142,"a":6,"b":15.8,"v":3},{"t":142,"a":8,"b":15,"v":4},{"t":142,"a":8.5,"b":14.5,"v":5},{"t":142,"a":9,"b":13.5,"v":6},{"t":142,"a":11,"b":11,"v":7},
{"t":146,"a":5,"b":19.7,"v":1},{"t":146,"a":5,"b":18,"v":2},{"t":146,"a":5,"b":17,"v":3},{"t":146,"a":5,"b":16.5,"v":4},{"t":146,"a":6,"b":15.8,"v":5},{"t":146,"a":8,"b":15,"v":6},{"t":146,"a":9,"b":13.5,"v":7},
{"t":150,"a":5,"b":16,"v":1},{"t":150,"a":5,"b":15.3,"v":2},{"t":150,"a":5.5,"b":14.5,"v":3},{"t":150,"a":6.5,"b":14,"v":4},{"t":150,"a":7.5,"b":13,"v":5},{"t":150,"a":9,"b":12,"v":6},{"t":150,"a":11,"b":11,"v":7},
{"t":154,"a":5,"b":15,"v":1},{"t":154,"a":5,"b":14,"v":2},{"t":154,"a":6,"b":13,"v":3},{"t":154,"a":7.5,"b":12.7,"v":4},{"t":154,"a":8,"b":12,"v":5},{"t":154,"a":8.5,"b":12,"v":6},
{"t":158,"a":5,"b":14.5,"v":1},{"t":158,"a":5,"b":14,"v":2},{"t":158,"a":5.5,"b":13,"v":3},{"t":158,"a":6.5,"b":13,"v":4},{"t":158,"a":7.5,"b":12.5,"v":5},{"t":158,"a":8,"b":12,"v":6},{"t":158,"a":11,"b":11,"v":7},
{"t":162,"a":5,"b":18,"v":1},{"t":162,"a":5,"b":17,"v":2},{"t":162,"a":5.5,"b":16.5,"v":3},{"t":162,"a":6,"b":16,"v":4},{"t":162,"a":7,"b":15,"v":5},{"t":162,"a":8,"b":13.5,"v":6},{"t":162,"a":9.5,"b":13,"v":7},
{"t":166,"a":5,"b":15,"v":1},{"t":166,"a":5,"b":14,"v":2},{"t":166,"a":5.5,"b":13.5,"v":3},{"t":166,"a":6,"b":13,"v":4},{"t":166,"a":7,"b":12.5,"v":5},{"t":166,"a":7.5,"b":11.5,"v":6},{"t":166,"a":8,"b":11,"v":7},
{"t":170,"a":5,"b":14,"v":1},{"t":170,"a":5,"b":13.5,"v":2},{"t":170,"a":5,"b":12.8,"v":3},{"t":170,"a":6,"b":12.5,"v":4},{"t":170,"a":7,"b":12,"v":5},{"t":170,"a":8,"b":11,"v":6},{"t":170,"a":9.5,"b":9.5,"v":7},
{"t":174,"a":5,"b":14,"v":1},{"t":174,"a":5,"b":13,"v":2},{"t":174,"a":5.5,"b":12.5,"v":3},{"t":174,"a":6,"b":12,"v":4},{"t":174,"a":7,"b":11.5,"v":5},{"t":174,"a":7.5,"b":11,"v":6},
{"t":178,"a":5,"b":16,"v":1},{"t":178,"a":5,"b":15,"v":2},{"t":178,"a":5.5,"b":14,"v":3},{"t":178,"a":6,"b":13.5,"v":4},{"t":178,"a":7,"b":13,"v":5},{"t":178,"a":8,"b":11.5,"v":6},
{"t":182,"a":5,"b":15.5,"v":1},{"t":182,"a":5,"b":15,"v":2},{"t":182,"a":5.5,"b":14,"v":3},{"t":182,"a":6,"b":13.5,"v":4},{"t":182,"a":7,"b":12,"v":5},{"t":182,"a":8,"b":10,"v":6}]
},
"layer":[
{"data":{"values":[{"s":"left"}]},"mark":{"type":"rect","fill":"#0f0e0d"},"encoding":{"x":{"field":"s","type":"nominal","axis":null,"scale":{"type":"band","domain":["left"],"range":[0,30],"paddingInner":0,"paddingOuter":0}},"y":{"field":"s","type":"nominal","axis":null,"scale":{"type":"band","domain":["left"],"range":[0,1573],"paddingInner":0,"paddingOuter":0}}}},
{"data":{"values":[{"s":"top"}]},"mark":{"type":"rect","fill":"#0f0e0d"},"encoding":{"x":{"field":"s","type":"nominal","axis":null,"scale":{"type":"band","domain":["top"],"range":[0,2760],"paddingInner":0,"paddingOuter":0}},"y":{"field":"s","type":"nominal","axis":null,"scale":{"type":"band","domain":["top"],"range":[0,30],"paddingInner":0,"paddingOuter":0}}}},
{"data":{"values":[{"s":"boxes"}]},"mark":{"type":"rect","fill":"#fff","cornerRadius":28},"encoding":{"x":{"field":"s","type":"nominal","axis":null,"scale":{"type":"band","domain":["boxes"],"range":[24,1303],"paddingInner":0,"paddingOuter":0}},"y":{"field":"s","type":"nominal","axis":null,"scale":{"type":"band","domain":["boxes"],"range":[14,1600],"paddingInner":0,"paddingOuter":0}}}},
{"data":{"values":[{"s":"maps"}]},"mark":{"type":"rect","fill":"#fff","cornerRadius":28},"encoding":{"x":{"field":"s","type":"nominal","axis":null,"scale":{"type":"band","domain":["maps"],"range":[1349,2800],"paddingInner":0,"paddingOuter":0}},"y":{"field":"s","type":"nominal","axis":null,"scale":{"type":"band","domain":["maps"],"range":[14,927],"paddingInner":0,"paddingOuter":0}}}},
{"encoding":{"x":{"field":"p","type":"quantitative","axis":null,"scale":{"domain":[0,100],"range":[1350,2760],"nice":false,"zero":false}},"y":{"field":"l","type":"ordinal","axis":null,"scale":{"type":"point","domain":[1,2,3,4,5,6],"range":[1036.6,1530],"padding":0}},"text":{"field":"w"}},"layer":[
{"data":{"name":"words"},"mark":{"type":"text","font":"Lato","fontSize":71,"align":"left","baseline":"alphabetic","color":"#aeaeaa"}},
{"data":{"values":[{"l":1,"p":0,"w":"Fig"},{"l":1,"p":9.3,"w":"3."}]},"mark":{"type":"text","font":"Lato","fontWeight":"bold","fontSize":71,"align":"left","baseline":"alphabetic","color":"#aeaeaa"}}]},

{"encoding":{"x":{"field":"m","type":"nominal","scale":{"type":"point","domain":["_L","ENS","BMJ","GF","KF","LIN","TH","WSM3","ACM2","MYJ","YSU","_R"],"range":[154,1291],"padding":0},"axis":null}},
"layer":[
{"data":{"name":"box"},"transform":[{"filter":"datum.r=='Sahel'"}],"layer":[
{"mark":{"type":"rule","color":"#000","strokeWidth":2.5},"encoding":{"y":{"field":"lo","type":"quantitative","scale":{"domain":[-0.77,1.29],"range":[431,81],"nice":false,"zero":false},"axis":null},"y2":{"field":"hi"}}},
{"mark":{"type":"bar","size":62,"stroke":"#000","strokeWidth":2.5},"encoding":{"y":{"field":"q1","type":"quantitative","axis":null},"y2":{"field":"q3"},"color":{"field":"g","type":"nominal","legend":null,"scale":{"domain":["ENS","CU","MP","PBL"],"range":["#bdbdbd","#fcc5af","#cddff1","#fafcc6"]}}}},
{"mark":{"type":"tick","orient":"horizontal","size":30,"thickness":2.5,"color":"#000"},"encoding":{"y":{"field":"hi","type":"quantitative","axis":null}}},
{"mark":{"type":"tick","orient":"horizontal","size":30,"thickness":2.5,"color":"#000"},"encoding":{"y":{"field":"lo","type":"quantitative","axis":null}}},
{"mark":{"type":"tick","orient":"horizontal","size":62,"thickness":3,"color":"#000"},"encoding":{"y":{"field":"med","type":"quantitative","axis":null}}},
{"mark":{"type":"tick","orient":"horizontal","size":62,"thickness":3,"color":"#f00"},"encoding":{"y":{"field":"mean","type":"quantitative","axis":null}}}]},
{"data":{"values":[{}]},"mark":{"type":"rule","color":"#000","strokeWidth":3.5,"strokeDash":[14,9]},"encoding":{"x":{"datum":"_L","axis":null},"x2":{"datum":"_R"},"y":{"datum":0,"axis":null}}},
{"data":{"name":"trmm"},"transform":[{"filter":"datum.r=='Sahel'"}],"mark":{"type":"rule","color":"#2b65ae","strokeWidth":5},"encoding":{"x":{"datum":"_L","axis":null},"x2":{"datum":"_R"},"y":{"field":"v","type":"quantitative","axis":null}}},
{"data":{"name":"heads"},"transform":[{"filter":"datum.r=='Sahel'"}],"mark":{"type":"text","fontSize":35,"dx":-10,"color":"#000","font":"Liberation Sans"},"encoding":{"y":{"field":"v","type":"quantitative","axis":null},"text":{"field":"s"}}}]},
{"data":{"values":[]},"mark":"point","encoding":{"x":{"field":"m","type":"nominal","scale":{"type":"point","domain":["_L","ENS","BMJ","GF","KF","LIN","TH","WSM3","ACM2","MYJ","YSU","_R"],"range":[154,1291],"padding":0},"axis":{"zindex":1,"orient":"bottom","offset":-1142,"values":["ENS","BMJ","GF","KF","LIN","TH","WSM3","ACM2","MYJ","YSU"],"tickSize":-8,"labelPadding":26,"labelFontSize":31,"labelAngle":0,"title":null}},"y":{"field":"v","type":"quantitative","scale":{"domain":[-0.77,1.29],"range":[431,81],"nice":false,"zero":false},"axis":{"zindex":1,"orient":"left","offset":-154,"values":[-0.5,0,0.5,1],"format":".1f","labelExpr":"replace(datum.label,'−','-')","tickSize":-23,"labelPadding":36,"labelFontSize":31,"title":"Bias (mm day⁻¹)","titleFontSize":32,"titleX":-108,"titleY":256,"titleAlign":"center","titleBaseline":"middle"}}}},
{"data":{"values":[]},"mark":"point","encoding":{"y":{"field":"v","type":"quantitative","scale":{"domain":[-0.77,1.29],"range":[431,81],"nice":false,"zero":false},"axis":{"zindex":1,"orient":"left","offset":-154,"tickCount":20,"tickSize":-12,"labels":false,"domain":false,"title":null}}}},
{"data":{"values":[]},"mark":"point","encoding":{"y":{"field":"v","type":"quantitative","scale":{"domain":[-0.77,1.29],"range":[431,81],"nice":false,"zero":false},"axis":{"zindex":1,"orient":"right","offset":-1469,"tickCount":20,"tickSize":-12,"labels":false,"domain":false,"title":null}}}},
{"data":{"values":[]},"mark":"point","encoding":{"x":{"field":"m","type":"nominal","scale":{"type":"point","domain":["_L","ENS","BMJ","GF","KF","LIN","TH","WSM3","ACM2","MYJ","YSU","_R"],"range":[154,1291],"padding":0},"axis":{"zindex":1,"orient":"top","offset":-81,"values":["ENS","BMJ","GF","KF","LIN","TH","WSM3","ACM2","MYJ","YSU"],"tickSize":-8,"labels":false,"title":null}},"y":{"field":"v","type":"quantitative","scale":{"domain":[-0.77,1.29],"range":[431,81],"nice":false,"zero":false},"axis":{"zindex":1,"orient":"right","offset":-1469,"values":[-0.5,0,0.5,1],"tickSize":-23,"labels":false,"title":null}}}},

{"encoding":{"x":{"field":"m","type":"nominal","scale":{"type":"point","domain":["_L","ENS","BMJ","GF","KF","LIN","TH","WSM3","ACM2","MYJ","YSU","_R"],"range":[154,1291],"padding":0},"axis":null}},
"layer":[
{"data":{"name":"box"},"transform":[{"filter":"datum.r=='Sudano'"}],"layer":[
{"mark":{"type":"rule","color":"#000","strokeWidth":2.5},"encoding":{"y":{"field":"lo","type":"quantitative","scale":{"domain":[-2.755,2.927],"range":[928,578],"nice":false,"zero":false},"axis":null},"y2":{"field":"hi"}}},
{"mark":{"type":"bar","size":62,"stroke":"#000","strokeWidth":2.5},"encoding":{"y":{"field":"q1","type":"quantitative","axis":null},"y2":{"field":"q3"},"color":{"field":"g","type":"nominal","legend":null,"scale":{"domain":["ENS","CU","MP","PBL"],"range":["#bdbdbd","#fcc5af","#cddff1","#fafcc6"]}}}},
{"mark":{"type":"tick","orient":"horizontal","size":30,"thickness":2.5,"color":"#000"},"encoding":{"y":{"field":"hi","type":"quantitative","axis":null}}},
{"mark":{"type":"tick","orient":"horizontal","size":30,"thickness":2.5,"color":"#000"},"encoding":{"y":{"field":"lo","type":"quantitative","axis":null}}},
{"mark":{"type":"tick","orient":"horizontal","size":62,"thickness":3,"color":"#000"},"encoding":{"y":{"field":"med","type":"quantitative","axis":null}}},
{"mark":{"type":"tick","orient":"horizontal","size":62,"thickness":3,"color":"#f00"},"encoding":{"y":{"field":"mean","type":"quantitative","axis":null}}}]},
{"data":{"values":[{}]},"mark":{"type":"rule","color":"#000","strokeWidth":3.5,"strokeDash":[14,9]},"encoding":{"x":{"datum":"_L","axis":null},"x2":{"datum":"_R"},"y":{"datum":0,"axis":null}}},
{"data":{"name":"trmm"},"transform":[{"filter":"datum.r=='Sudano'"}],"mark":{"type":"rule","color":"#2b65ae","strokeWidth":5},"encoding":{"x":{"datum":"_L","axis":null},"x2":{"datum":"_R"},"y":{"field":"v","type":"quantitative","axis":null}}},
{"data":{"name":"heads"},"transform":[{"filter":"datum.r=='Sudano'"}],"mark":{"type":"text","fontSize":35,"dx":-10,"color":"#000","font":"Liberation Sans"},"encoding":{"y":{"field":"v","type":"quantitative","axis":null},"text":{"field":"s"}}}]},
{"data":{"values":[]},"mark":"point","encoding":{"x":{"field":"m","type":"nominal","scale":{"type":"point","domain":["_L","ENS","BMJ","GF","KF","LIN","TH","WSM3","ACM2","MYJ","YSU","_R"],"range":[154,1291],"padding":0},"axis":{"zindex":1,"orient":"bottom","offset":-645,"values":["ENS","BMJ","GF","KF","LIN","TH","WSM3","ACM2","MYJ","YSU"],"tickSize":-8,"labelPadding":26,"labelFontSize":31,"labelAngle":0,"title":null}},"y":{"field":"v","type":"quantitative","scale":{"domain":[-2.755,2.927],"range":[928,578],"nice":false,"zero":false},"axis":{"zindex":1,"orient":"left","offset":-154,"values":[-2,-1,0,1,2],"format":"d","labelExpr":"replace(datum.label,'−','-')","tickSize":-23,"labelPadding":36,"labelFontSize":31,"title":"Bias (mm day⁻¹)","titleFontSize":32,"titleX":-82,"titleY":753,"titleAlign":"center","titleBaseline":"middle"}}}},
{"data":{"values":[]},"mark":"point","encoding":{"y":{"field":"v","type":"quantitative","scale":{"domain":[-2.755,2.927],"range":[928,578],"nice":false,"zero":false},"axis":{"zindex":1,"orient":"left","offset":-154,"tickCount":56,"tickSize":-12,"labels":false,"domain":false,"title":null}}}},
{"data":{"values":[]},"mark":"point","encoding":{"y":{"field":"v","type":"quantitative","scale":{"domain":[-2.755,2.927],"range":[928,578],"nice":false,"zero":false},"axis":{"zindex":1,"orient":"right","offset":-1469,"tickCount":56,"tickSize":-12,"labels":false,"domain":false,"title":null}}}},
{"data":{"values":[]},"mark":"point","encoding":{"x":{"field":"m","type":"nominal","scale":{"type":"point","domain":["_L","ENS","BMJ","GF","KF","LIN","TH","WSM3","ACM2","MYJ","YSU","_R"],"range":[154,1291],"padding":0},"axis":{"zindex":1,"orient":"top","offset":-578,"values":["ENS","BMJ","GF","KF","LIN","TH","WSM3","ACM2","MYJ","YSU"],"tickSize":-8,"labels":false,"title":null}},"y":{"field":"v","type":"quantitative","scale":{"domain":[-2.755,2.927],"range":[928,578],"nice":false,"zero":false},"axis":{"zindex":1,"orient":"right","offset":-1469,"values":[-2,-1,0,1,2],"tickSize":-23,"labels":false,"title":null}}}},

{"encoding":{"x":{"field":"m","type":"nominal","scale":{"type":"point","domain":["_L","ENS","BMJ","GF","KF","LIN","TH","WSM3","ACM2","MYJ","YSU","_R"],"range":[154,1291],"padding":0},"axis":null}},
"layer":[
{"data":{"name":"box"},"transform":[{"filter":"datum.r=='Guinea'"}],"layer":[
{"mark":{"type":"rule","color":"#000","strokeWidth":2.5},"encoding":{"y":{"field":"lo","type":"quantitative","scale":{"domain":[-2.914,2.595],"range":[1425.6,1074.7],"nice":false,"zero":false},"axis":null},"y2":{"field":"hi"}}},
{"mark":{"type":"bar","size":62,"stroke":"#000","strokeWidth":2.5},"encoding":{"y":{"field":"q1","type":"quantitative","axis":null},"y2":{"field":"q3"},"color":{"field":"g","type":"nominal","legend":null,"scale":{"domain":["ENS","CU","MP","PBL"],"range":["#bdbdbd","#fcc5af","#cddff1","#fafcc6"]}}}},
{"mark":{"type":"tick","orient":"horizontal","size":30,"thickness":2.5,"color":"#000"},"encoding":{"y":{"field":"hi","type":"quantitative","axis":null}}},
{"mark":{"type":"tick","orient":"horizontal","size":30,"thickness":2.5,"color":"#000"},"encoding":{"y":{"field":"lo","type":"quantitative","axis":null}}},
{"mark":{"type":"tick","orient":"horizontal","size":62,"thickness":3,"color":"#000"},"encoding":{"y":{"field":"med","type":"quantitative","axis":null}}},
{"mark":{"type":"tick","orient":"horizontal","size":62,"thickness":3,"color":"#f00"},"encoding":{"y":{"field":"mean","type":"quantitative","axis":null}}}]},
{"data":{"values":[{}]},"mark":{"type":"rule","color":"#000","strokeWidth":3.5,"strokeDash":[14,9]},"encoding":{"x":{"datum":"_L","axis":null},"x2":{"datum":"_R"},"y":{"datum":0,"axis":null}}},
{"data":{"name":"trmm"},"transform":[{"filter":"datum.r=='Guinea'"}],"mark":{"type":"rule","color":"#2b65ae","strokeWidth":5},"encoding":{"x":{"datum":"_L","axis":null},"x2":{"datum":"_R"},"y":{"field":"v","type":"quantitative","axis":null}}},
{"data":{"name":"heads"},"transform":[{"filter":"datum.r=='Guinea'"}],"mark":{"type":"text","fontSize":35,"dx":-10,"color":"#000","font":"Liberation Sans"},"encoding":{"y":{"field":"v","type":"quantitative","axis":null},"text":{"field":"s"}}}]},
{"data":{"values":[]},"mark":"point","encoding":{"x":{"field":"m","type":"nominal","scale":{"type":"point","domain":["_L","ENS","BMJ","GF","KF","LIN","TH","WSM3","ACM2","MYJ","YSU","_R"],"range":[154,1291],"padding":0},"axis":{"zindex":1,"orient":"bottom","offset":-147.4,"values":["ENS","BMJ","GF","KF","LIN","TH","WSM3","ACM2","MYJ","YSU"],"tickSize":-8,"labelPadding":26,"labelFontSize":31,"labelAngle":0,"title":null}},"y":{"field":"v","type":"quantitative","scale":{"domain":[-2.914,2.595],"range":[1425.6,1074.7],"nice":false,"zero":false},"axis":{"zindex":1,"orient":"left","offset":-154,"values":[-2,-1,0,1,2],"format":"d","labelExpr":"replace(datum.label,'−','-')","tickSize":-23,"labelPadding":36,"labelFontSize":31,"title":"Bias (mm day⁻¹)","titleFontSize":32,"titleX":-82,"titleY":1249,"titleAlign":"center","titleBaseline":"middle"}}}},
{"data":{"values":[]},"mark":"point","encoding":{"y":{"field":"v","type":"quantitative","scale":{"domain":[-2.914,2.595],"range":[1425.6,1074.7],"nice":false,"zero":false},"axis":{"zindex":1,"orient":"left","offset":-154,"tickCount":55,"tickSize":-12,"labels":false,"domain":false,"title":null}}}},
{"data":{"values":[]},"mark":"point","encoding":{"y":{"field":"v","type":"quantitative","scale":{"domain":[-2.914,2.595],"range":[1425.6,1074.7],"nice":false,"zero":false},"axis":{"zindex":1,"orient":"right","offset":-1469,"tickCount":55,"tickSize":-12,"labels":false,"domain":false,"title":null}}}},
{"data":{"values":[]},"mark":"point","encoding":{"x":{"field":"m","type":"nominal","scale":{"type":"point","domain":["_L","ENS","BMJ","GF","KF","LIN","TH","WSM3","ACM2","MYJ","YSU","_R"],"range":[154,1291],"padding":0},"axis":{"zindex":1,"orient":"top","offset":-1074.7,"values":["ENS","BMJ","GF","KF","LIN","TH","WSM3","ACM2","MYJ","YSU"],"tickSize":-8,"labels":false,"title":null}},"y":{"field":"v","type":"quantitative","scale":{"domain":[-2.914,2.595],"range":[1425.6,1074.7],"nice":false,"zero":false},"axis":{"zindex":1,"orient":"right","offset":-1469,"values":[-2,-1,0,1,2],"tickSize":-23,"labels":false,"title":null}}}},

{"encoding":{"x":{"field":"c","type":"quantitative","axis":null,"scale":{"domain":[0,2],"range":[314,893],"nice":false,"zero":false}},"y":{"field":"r","type":"ordinal","axis":null,"scale":{"type":"point","domain":[0,1],"range":[1515,1557],"padding":0}}},"layer":[
{"data":{"values":[{"c":0,"r":0,"s":"CU"},{"c":1,"r":0,"s":"MP"},{"c":2,"r":0,"s":"PBL"}]},"layer":[
{"mark":{"type":"point","filled":true,"size":576,"stroke":"#000","strokeWidth":2.5,"opacity":1},"encoding":{"fill":{"field":"s","type":"nominal","legend":null,"scale":{"domain":["CU","MP","PBL"],"range":["#fcc5af","#cddff1","#ffff00"]}},"shape":{"value":"circle"}}},
{"mark":{"type":"text","fontSize":27,"align":"left","dx":27,"color":"#000"},"encoding":{"text":{"field":"s"}}}]},
{"data":{"values":[{"c":0,"r":1,"s":"Mean"},{"c":1,"r":1,"s":"Median"},{"c":2,"r":1,"s":"TRMM"}]},"layer":[
{"mark":{"type":"tick","orient":"horizontal","size":24,"thickness":4,"xOffset":-11},"encoding":{"color":{"field":"s","type":"nominal","legend":null,"scale":{"domain":["Mean","Median","TRMM"],"range":["#f00","#000","#2b65ae"]}}}},
{"mark":{"type":"text","fontSize":27,"align":"left","dx":27,"color":"#000"},"encoding":{"text":{"field":"s"}}}]}]},

{"encoding":{"x":{"field":"t","type":"quantitative","scale":{"domain":[0,182],"range":[1473,2757.5],"nice":false,"zero":false},"axis":null}},"layer":[
{"data":{"values":[{"f":0,"e":182,"a":5,"b":20}]},"mark":{"type":"rect","color":"#f4f0f8"},"encoding":{"x":{"field":"f","type":"quantitative","axis":null},"x2":{"field":"e"},"y":{"field":"a","type":"quantitative","scale":{"domain":[5,20],"range":[237.3,77.3],"nice":false,"zero":false},"axis":null},"y2":{"field":"b"}}},
{"data":{"name":"hT"},"transform":[{"fold":["a","b"],"as":["k","val"]},{"impute":"val","key":"t","keyvals":[0,6,10,14,18,22,26,30,34,38,42,46,50,54,58,62,66,70,74,78,82,86,90,94,98,102,106,110,114,118,122,126,130,134,138,142,146,150,154,158,162,166,170,174,178,182],"value":5,"groupby":["v","k"]},{"pivot":"k","value":"val","groupby":["t","v"]}],"mark":{"type":"area","interpolate":"linear","line":false},"encoding":{"y":{"field":"a","type":"quantitative","axis":null},"y2":{"field":"b"},"color":{"field":"v","type":"ordinal","legend":null,"scale":{"domain":[1,2,3,4,5,6,7],"range":["#6c1f9a","#1800e6","#0a6e78","#7bd30d","#ffe600","#ff9900","#ff0000"]}}}},
{"data":{"name":"months"},"mark":{"type":"rule","color":"#000","strokeWidth":2},"encoding":{"x":{"field":"d","type":"quantitative","axis":null},"y":{"datum":5,"axis":null},"y2":{"datum":20}}},
{"data":{"name":"lats"},"mark":{"type":"rule","color":"#111","strokeWidth":3.5},"encoding":{"x":{"field":"f","type":"quantitative","axis":null},"x2":{"field":"e"},"y":{"field":"lat","type":"quantitative","axis":null}}},
{"data":{"values":[{"d":91,"v":22.4,"s":"TRMM"}]},"mark":{"type":"text","fontSize":31,"color":"#000"},"encoding":{"x":{"field":"d","type":"quantitative","axis":null},"y":{"field":"v","type":"quantitative","axis":null},"text":{"field":"s"}}}]},
{"data":{"values":[]},"mark":"point","encoding":{"x":{"field":"t","type":"quantitative","scale":{"domain":[0,182],"range":[1473,2757.5],"nice":false,"zero":false},"axis":{"zindex":1,"orient":"bottom","offset":-1335.7,"values":[0,30,61,91,122,153],"labelExpr":"['APR','MAY','JUN','JUL','AUG','SEP'][indexof([0,30,61,91,122,153],datum.value)]","ticks":false,"labelPadding":14,"labelFontSize":26,"labelFlush":false,"title":null,"domainWidth":4}},"y":{"field":"a","type":"quantitative","scale":{"domain":[5,20],"range":[237.3,77.3],"nice":false,"zero":false},"axis":{"zindex":1,"orient":"left","offset":-1473,"values":[8,12,16,20],"ticks":false,"labelPadding":14,"labelFontSize":26,"domain":false,"title":"Latitude (°N)","titleFontSize":31,"titleX":-83,"titleY":157,"titleAlign":"center","titleBaseline":"middle"}}}},

{"encoding":{"x":{"field":"t","type":"quantitative","scale":{"domain":[0,182],"range":[1473,2757.5],"nice":false,"zero":false},"axis":null}},"layer":[
{"data":{"values":[{"f":0,"e":182,"a":5,"b":20}]},"mark":{"type":"rect","color":"#f4f0f8"},"encoding":{"x":{"field":"f","type":"quantitative","axis":null},"x2":{"field":"e"},"y":{"field":"a","type":"quantitative","scale":{"domain":[5,20],"range":[504,345.7],"nice":false,"zero":false},"axis":null},"y2":{"field":"b"}}},
{"data":{"name":"hE"},"transform":[{"fold":["a","b"],"as":["k","val"]},{"impute":"val","key":"t","keyvals":[0,6,10,14,18,22,26,30,34,38,42,46,50,54,58,62,66,70,74,78,82,86,90,94,98,102,106,110,114,118,122,126,130,134,138,142,146,150,154,158,162,166,170,174,178,182],"value":5,"groupby":["v","k"]},{"pivot":"k","value":"val","groupby":["t","v"]}],"mark":{"type":"area","interpolate":"linear","line":false},"encoding":{"y":{"field":"a","type":"quantitative","axis":null},"y2":{"field":"b"},"color":{"field":"v","type":"ordinal","legend":null,"scale":{"domain":[1,2,3,4,5,6,7],"range":["#6c1f9a","#1800e6","#0a6e78","#7bd30d","#ffe600","#ff9900","#ff0000"]}}}},
{"data":{"name":"months"},"mark":{"type":"rule","color":"#000","strokeWidth":2},"encoding":{"x":{"field":"d","type":"quantitative","axis":null},"y":{"datum":5,"axis":null},"y2":{"datum":20}}},
{"data":{"name":"lats"},"mark":{"type":"rule","color":"#111","strokeWidth":3.5},"encoding":{"x":{"field":"f","type":"quantitative","axis":null},"x2":{"field":"e"},"y":{"field":"lat","type":"quantitative","axis":null}}},
{"data":{"values":[{"d":91,"v":22.4,"s":"ERA−I"}]},"mark":{"type":"text","fontSize":31,"color":"#000"},"encoding":{"x":{"field":"d","type":"quantitative","axis":null},"y":{"field":"v","type":"quantitative","axis":null},"text":{"field":"s"}}}]},
{"data":{"values":[]},"mark":"point","encoding":{"x":{"field":"t","type":"quantitative","scale":{"domain":[0,182],"range":[1473,2757.5],"nice":false,"zero":false},"axis":{"zindex":1,"orient":"bottom","offset":-1069,"values":[0,30,61,91,122,153],"labelExpr":"['APR','MAY','JUN','JUL','AUG','SEP'][indexof([0,30,61,91,122,153],datum.value)]","ticks":false,"labelPadding":14,"labelFontSize":26,"labelFlush":false,"title":null,"domainWidth":4}},"y":{"field":"a","type":"quantitative","scale":{"domain":[5,20],"range":[504,345.7],"nice":false,"zero":false},"axis":{"zindex":1,"orient":"left","offset":-1473,"values":[8,12,16,20],"ticks":false,"labelPadding":14,"labelFontSize":26,"domain":false,"title":"Latitude (°N)","titleFontSize":31,"titleX":-83,"titleY":425,"titleAlign":"center","titleBaseline":"middle"}}}},

{"encoding":{"x":{"field":"t","type":"quantitative","scale":{"domain":[0,182],"range":[1473,2757.5],"nice":false,"zero":false},"axis":null}},"layer":[
{"data":{"values":[{"f":0,"e":182,"a":5,"b":20}]},"mark":{"type":"rect","color":"#f4f0f8"},"encoding":{"x":{"field":"f","type":"quantitative","axis":null},"x2":{"field":"e"},"y":{"field":"a","type":"quantitative","scale":{"domain":[5,20],"range":[771,610.7],"nice":false,"zero":false},"axis":null},"y2":{"field":"b"}}},
{"data":{"name":"hN"},"transform":[{"fold":["a","b"],"as":["k","val"]},{"impute":"val","key":"t","keyvals":[0,6,10,14,18,22,26,30,34,38,42,46,50,54,58,62,66,70,74,78,82,86,90,94,98,102,106,110,114,118,122,126,130,134,138,142,146,150,154,158,162,166,170,174,178,182],"value":5,"groupby":["v","k"]},{"pivot":"k","value":"val","groupby":["t","v"]}],"mark":{"type":"area","interpolate":"linear","line":false},"encoding":{"y":{"field":"a","type":"quantitative","axis":null},"y2":{"field":"b"},"color":{"field":"v","type":"ordinal","legend":null,"scale":{"domain":[1,2,3,4,5,6,7],"range":["#6c1f9a","#1800e6","#0a6e78","#7bd30d","#ffe600","#ff9900","#ff0000"]}}}},
{"data":{"name":"months"},"mark":{"type":"rule","color":"#000","strokeWidth":2},"encoding":{"x":{"field":"d","type":"quantitative","axis":null},"y":{"datum":5,"axis":null},"y2":{"datum":20}}},
{"data":{"name":"lats"},"mark":{"type":"rule","color":"#111","strokeWidth":3.5},"encoding":{"x":{"field":"f","type":"quantitative","axis":null},"x2":{"field":"e"},"y":{"field":"lat","type":"quantitative","axis":null}}},
{"data":{"values":[{"d":91,"v":22.3,"s":"ENS"}]},"mark":{"type":"text","fontSize":31,"color":"#000"},"encoding":{"x":{"field":"d","type":"quantitative","axis":null},"y":{"field":"v","type":"quantitative","axis":null},"text":{"field":"s"}}}]},
{"data":{"values":[]},"mark":"point","encoding":{"x":{"field":"t","type":"quantitative","scale":{"domain":[0,182],"range":[1473,2757.5],"nice":false,"zero":false},"axis":{"zindex":1,"orient":"bottom","offset":-802,"values":[0,30,61,91,122,153],"labelExpr":"['APR','MAY','JUN','JUL','AUG','SEP'][indexof([0,30,61,91,122,153],datum.value)]","ticks":false,"labelPadding":14,"labelFontSize":26,"labelFlush":false,"title":null,"domainWidth":4}},"y":{"field":"a","type":"quantitative","scale":{"domain":[5,20],"range":[771,610.7],"nice":false,"zero":false},"axis":{"zindex":1,"orient":"left","offset":-1473,"values":[8,12,16,20],"ticks":false,"labelPadding":14,"labelFontSize":26,"domain":false,"title":"Latitude (°N)","titleFontSize":31,"titleX":-83,"titleY":693,"titleAlign":"center","titleBaseline":"middle"}}}},

{"data":{"values":[{"v":1,"k":"cb"},{"v":2,"k":"cb"},{"v":3,"k":"cb"},{"v":4,"k":"cb"},{"v":5,"k":"cb"},{"v":6,"k":"cb"}]},"mark":{"type":"rect","stroke":"#000","strokeWidth":2.5},"encoding":{"x":{"field":"v","type":"ordinal","axis":null,"scale":{"type":"band","domain":[1,2,3,4,5,6],"range":[1682,2493],"paddingInner":0,"paddingOuter":0}},"y":{"field":"k","type":"nominal","axis":null,"scale":{"type":"band","domain":["cb"],"range":[832,860],"paddingInner":0,"paddingOuter":0}},"color":{"field":"v","type":"ordinal","legend":null,"scale":{"domain":[1,2,3,4,5,6,7],"range":["#6c1f9a","#1800e6","#0a6e78","#7bd30d","#ffe600","#ff9900","#ff0000"]}}}},
{"encoding":{"x":{"field":"l","type":"nominal","scale":{"type":"point","domain":["1.00","2.00","3.00","5.00","7.00","10.00","15.00"],"range":[1682,2493],"padding":0},"axis":{"zindex":1,"orient":"bottom","offset":-713,"ticks":false,"domain":false,"labelPadding":13,"labelFontSize":27,"labelAngle":0,"title":null}},"y":{"field":"k","type":"nominal","axis":null,"scale":{"type":"band","domain":["cb"],"range":[832,860],"paddingInner":0,"paddingOuter":0}}},"layer":[
{"data":{"values":[{"l":"1.00","k":"cb"}]},"mark":{"type":"point","shape":"M1,-1.33L-1,0L1,1.33Z","size":441,"filled":true,"fill":"#fff","stroke":"#000","strokeWidth":2.5,"opacity":1,"xOffset":-10.5}},
{"data":{"values":[{"l":"15.00","k":"cb"}]},"mark":{"type":"point","shape":"M-1,-1.33L1,0L-1,1.33Z","size":441,"filled":true,"fill":"#f00","stroke":"#000","strokeWidth":2.5,"opacity":1,"xOffset":10.5}},
{"data":{"values":[{"l":"15.00","k":"cb","s":"mm day⁻¹"}]},"mark":{"type":"text","fontSize":30,"align":"left","dx":52,"dy":-4,"color":"#000"},"encoding":{"text":{"field":"s"}}}]}
]}
